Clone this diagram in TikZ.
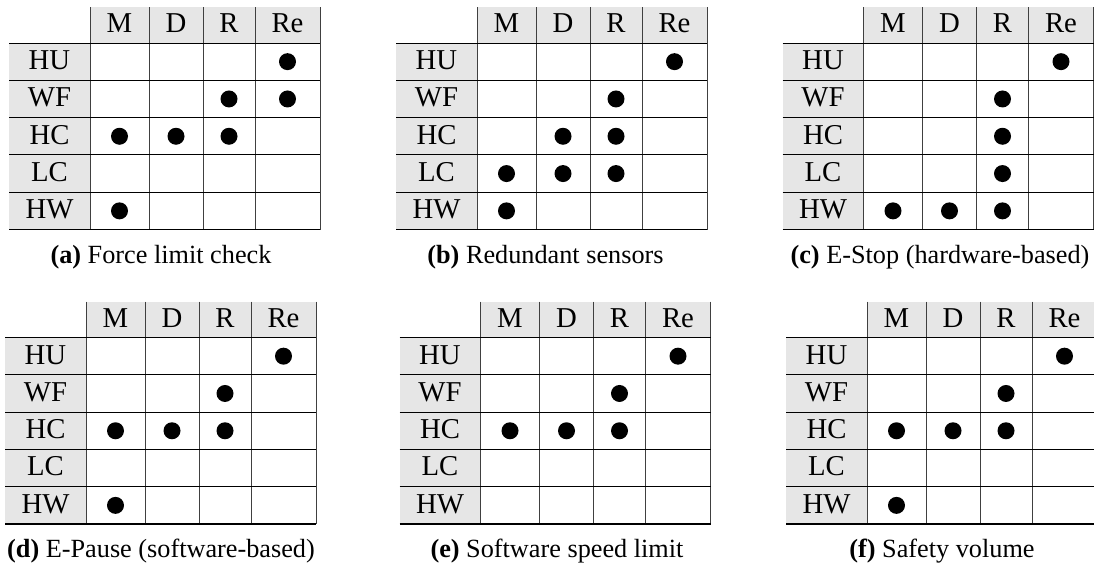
\documentclass[tikz,border=0pt]{standalone}
\usepackage{fontspec}
\setmainfont{Liberation Serif}
\definecolor{cellgray}{HTML}{E6E6E6}
\tikzset{
  cell/.style={anchor=base, font=\fontsize{11.5}{13}\selectfont, inner sep=0pt},
  dot/.style={circle, fill=black, draw=none, inner sep=0pt, minimum size=6.8pt},
  captext/.style={anchor=base, font=\fontsize{10.5}{12}\selectfont, inner sep=0pt},
  hrule/.style={line width=0.4pt, black},
  vrule/.style={line width=0.4pt, black!75},
  botrule/.style={line width=0.6pt, black},
}

% #1 id, #2 x, #3 y, #4 caption offset, #5 letter, #6 caption, #7 dots (column/row)
\newcommand\hazardtable[7]{%
\begin{scope}[shift={(#2,#3)}]
  \fill[cellgray] (81,0) rectangle (311,36);
  \fill[cellgray] (0,36) rectangle (81,222.5);
  \foreach \c/\t in {110.5/M,167/D,220/R,278.5/Re}
    \node[cell] (#1-\t) at (\c,25.5) {\t};
  \foreach \t [count=\i] in {HU,WF,HC,LC,HW}
    \node[cell] (#1-\t) at (40.5,{36+(\i-1)*37.3+26.5}) {\t};
  \foreach \x in {81,140,194,246,311}
    \draw[vrule] (\x,0) -- (\x,222.5);
  \foreach \y in {36,73.3,110.6,147.9,185.2}
    \draw[hrule] (0,\y) -- (311,\y);
  \draw[botrule] (0,222.5) -- (311,222.5);
  \foreach \c/\r in {#7}{
    \pgfmathsetmacro\cx{{110.5,167,220,278.5}[\c-1]}
    \node[dot] (#1-d\c\r) at (\cx,{36+(\r-0.5)*37.3}) {};
  }
  \node[captext] (#1-cap) at (#4,256) {\textbf{(#5)} #6};
\end{scope}}

\begin{document}
\begin{tikzpicture}[x=0.4pt,y=-0.4pt]
  \useasboundingbox (0,0) rectangle (1094,567);
  \hazardtable{a}{9}{7}{152}{a}{Force limit check}{4/1,3/2,4/2,1/3,2/3,3/3,1/5}
  \hazardtable{b}{396}{7}{149.5}{b}{Redundant sensors}{4/1,3/2,2/3,3/3,1/4,2/4,3/4,1/5}
  \hazardtable{c}{782.5}{7}{157.5}{c}{E-Stop (hardware-based)}{4/1,3/2,3/3,3/4,1/5,2/5,3/5}
  \hazardtable{d}{5}{301.5}{156}{d}{E-Pause (software-based)}{4/1,3/2,1/3,2/3,3/3,1/5}
  \hazardtable{e}{399.5}{301.5}{157.5}{e}{Software speed limit}{4/1,3/2,1/3,2/3,3/3}
  \hazardtable{f}{786}{301.5}{156}{f}{Safety volume}{4/1,3/2,1/3,2/3,3/3,1/5}
\end{tikzpicture}
\end{document}
